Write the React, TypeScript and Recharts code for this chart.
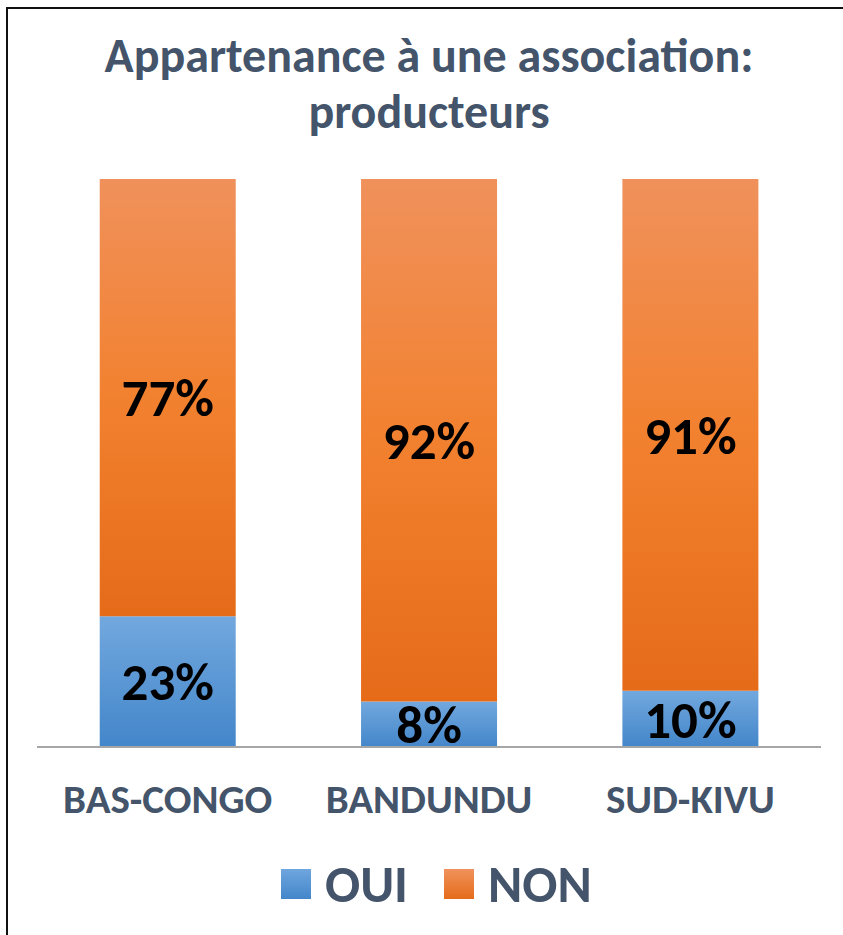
import { Bar, BarChart, XAxis, YAxis, Legend, LabelList } from "recharts"

const regions = ["BAS-CONGO", "BANDUNDU", "SUD-KIVU"]
const oui = [23, 8, 10]
const non = [77, 92, 91]
const seriesOrder = ["OUI", "NON"]

const data = regions.map((name, i) => ({ name, oui: oui[i], non: non[i] }))

const font = "Carlito, Calibri, 'Liberation Sans Narrow', 'Open Sans', sans-serif"
const slate = "#44546a"

const swatch: Record<string, string> = {
  OUI: "linear-gradient(#6fa6de, #4386ca)",
  NON: "linear-gradient(#f0925c, #e56c1a)",
}

function LegendContent(props: any) {
  const items = [...(props.payload || [])].sort(
    (a: any, b: any) => seriesOrder.indexOf(a.value) - seriesOrder.indexOf(b.value)
  )
  return (
    <div style={{ display: "flex", alignItems: "center", fontFamily: font }}>
      {items.map((it: any) => (
        <div key={it.value} style={{ display: "flex", alignItems: "center", marginRight: 36 }}>
          <span style={{ width: 30, height: 30, background: swatch[it.value], display: "inline-block", marginRight: 14 }} />
          <span style={{ fontSize: 52, fontWeight: 700, color: slate, lineHeight: "52px" }}>{it.value}</span>
        </div>
      ))}
    </div>
  )
}

export default function App() {
  return (
    <div style={{ position: "absolute", left: 0, top: 0, width: 843, height: 935, background: "#fff", overflow: "hidden" }}>
      <div style={{ position: "absolute", left: 6, top: 7, width: 860, height: 960, borderLeft: "2px solid #111", borderTop: "2px solid #111" }} />
      <div
        style={{
          position: "absolute",
          left: 37,
          width: 784,
          top: 28,
          textAlign: "center",
          fontFamily: font,
          fontWeight: 700,
          fontSize: 48,
          lineHeight: "56px",
          color: slate,
        }}
      >
        Appartenance à une association:
        <br />
        producteurs
      </div>
      <div style={{ position: "absolute", left: 0, top: 0 }}>
        <BarChart
          width={843}
          height={935}
          data={data}
          stackOffset="expand"
          barCategoryGap="24%"
          margin={{ top: 179, right: 22, left: 37, bottom: 128 }}
        >
          <defs>
            <linearGradient id="gOui" x1="0" y1="0" x2="0" y2="1">
              <stop offset="0%" stopColor="#72a8de" />
              <stop offset="100%" stopColor="#4386ca" />
            </linearGradient>
            <linearGradient id="gNon" x1="0" y1="0" x2="0" y2="1">
              <stop offset="0%" stopColor="#f0915b" />
              <stop offset="50%" stopColor="#f2812f" />
              <stop offset="100%" stopColor="#e56b19" />
            </linearGradient>
          </defs>
          <XAxis
            dataKey="name"
            height={60}
            tickLine={false}
            axisLine={{ stroke: "#a6a6a6", strokeWidth: 2 }}
            tickMargin={31}
            tick={{ fontFamily: font, fontSize: 41, fontWeight: 700, fill: slate }}
          />
          <YAxis hide domain={[0, 1]} />
          <Legend
            layout="horizontal"
            verticalAlign="middle"
            align="center"
            wrapperStyle={{ left: 281, top: 858, width: "auto" }}
            content={<LegendContent />}
          />
          <Bar dataKey="oui" name="OUI" stackId="a" fill="url(#gOui)" isAnimationActive={false}>
            <LabelList
              dataKey="oui"
              position="center"
              formatter={(v: any) => `${v}%`}
              style={{ fontFamily: font, fontSize: 53, fontWeight: 700, fill: "#000" }}
            />
          </Bar>
          <Bar dataKey="non" name="NON" stackId="a" fill="url(#gNon)" isAnimationActive={false}>
            <LabelList
              dataKey="non"
              position="center"
              formatter={(v: any) => `${v}%`}
              style={{ fontFamily: font, fontSize: 53, fontWeight: 700, fill: "#000" }}
            />
          </Bar>
        </BarChart>
      </div>
    </div>
  )
}
